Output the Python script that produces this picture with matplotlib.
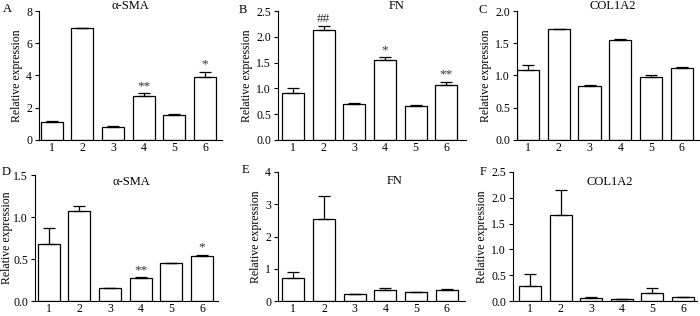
import matplotlib.pyplot as plt
import numpy as np

plt.rcParams['font.family'] = ['Liberation Serif', 'DejaVu Serif']
plt.rcParams['font.size'] = 8.5
plt.rcParams['axes.linewidth'] = 0.8

# 数据
groups = [1, 2, 3, 4, 5, 6]

a_val = [1.12, 6.92, 0.83, 2.73, 1.53, 3.88]
a_err = [0.03, 0.0, 0.02, 0.16, 0.06, 0.36]
a_sig = ['', '', '', '**', '', '*']

b_val = [0.92, 2.13, 0.69, 1.56, 0.65, 1.07]
b_err = [0.08, 0.08, 0.03, 0.04, 0.02, 0.05]
b_sig = ['', '##', '', '*', '', '**']

c_val = [1.09, 1.72, 0.83, 1.55, 0.98, 1.12]
c_err = [0.07, 0.0, 0.03, 0.02, 0.02, 0.01]

d_val = [0.68, 1.07, 0.16, 0.27, 0.45, 0.53]
d_err = [0.19, 0.06, 0.0, 0.01, 0.0, 0.02]
d_sig = ['', '', '', '**', '', '*']

e_val = [0.72, 2.53, 0.21, 0.34, 0.27, 0.34]
e_err = [0.19, 0.72, 0.0, 0.06, 0.0, 0.03]

f_val = [0.29, 1.66, 0.05, 0.03, 0.16, 0.07]
f_err = [0.23, 0.49, 0.03, 0.0, 0.09, 0.01]

W, H = 700, 316
fig = plt.figure(figsize=(W / 100, H / 100), dpi=100)


def make_ax(l, t, r, b):
    return fig.add_axes([l / W, 1 - b / H, (r - l) / W, (b - t) / H])


def draw(ax, vals, errs, xlim, ylim, yticks, ylabels, sig=None, lpad=2):
    ax.bar(groups, vals, width=0.72, color='white', edgecolor='black', linewidth=0.9)
    ax.errorbar(groups, vals, yerr=[np.zeros(len(errs)), errs], fmt='none',
                ecolor='black', elinewidth=0.9, capsize=4, capthick=0.9)
    ax.set_xlim(*xlim)
    ax.set_ylim(*ylim)
    ax.set_yticks(yticks)
    ax.set_yticklabels(ylabels)
    ax.set_xticks(groups)
    ax.set_xticklabels([str(g) for g in groups])
    ax.tick_params(axis='x', length=0, pad=1.5)
    ax.tick_params(axis='y', length=3, width=0.8, pad=2)
    ax.spines['top'].set_visible(False)
    ax.spines['right'].set_visible(False)
    ax.set_ylabel('Relative expression', labelpad=lpad)
    if sig:
        for g, v, e, s in zip(groups, vals, errs, sig):
            if s:
                ax.annotate(s, (g, v + e), xytext=(0, 1), textcoords='offset points',
                            ha='center', va='bottom', fontsize=9.5, color='#333333')


axA = make_ax(39, 11, 222, 140)
draw(axA, a_val, a_err, (0.59, 6.55), (0, 8), [0, 2, 4, 6, 8], ['0', '2', '4', '6', '8'], a_sig)

axB = make_ax(278, 11, 466, 140)
draw(axB, b_val, b_err, (0.51, 6.64), (0, 2.5), np.arange(0, 2.6, 0.5),
     ['0.0', '0.5', '1.0', '1.5', '2.0', '2.5'], b_sig)

axC = make_ax(517, 11, 699, 140)
draw(axC, c_val, c_err, (0.64, 6.56), (0, 2.0), np.arange(0, 2.1, 0.5),
     ['0.0', '0.5', '1.0', '1.5', '2.0'])

axD = make_ax(35, 175, 218, 301)
draw(axD, d_val, d_err, (0.55, 6.52), (0, 1.5), np.arange(0, 1.6, 0.5),
     ['0.0', '0.5', '1.0', '1.5'], d_sig, lpad=0)

axE = make_ax(278, 172, 465, 301)
draw(axE, e_val, e_err, (0.5, 6.6), (0, 4), [0, 1, 2, 3, 4], ['0', '1', '2', '3', '4'])

axF = make_ax(513, 172, 697, 301)
draw(axF, f_val, f_err, (0.44, 6.46), (0, 2.5), np.arange(0, 2.6, 0.5),
     ['0.0', '0.5', '1.0', '1.5', '2.0', '2.5'])

# 标题与面板字母
def ftext(x, y, s, **kw):
    fig.text(x / W, 1 - y / H, s, ha='center', va='center', fontsize=9, **kw)


ftext(130, 6, 'α-SMA')
ftext(397, 6, 'FN')
ftext(613, 6, 'COL1A2')
ftext(131, 182, 'α-SMA')
ftext(395, 181, 'FN')
ftext(610, 182, 'COL1A2')

ftext(7, 9, 'A')
ftext(243, 10, 'B')
ftext(483, 10, 'C')
ftext(6, 172, 'D')
ftext(245, 170, 'E')
ftext(483, 172, 'F')

fig.savefig('out.png', dpi=100)
